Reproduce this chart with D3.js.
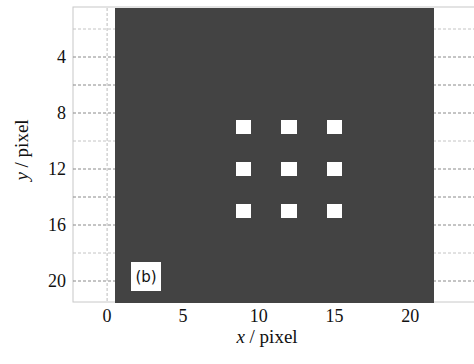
<!DOCTYPE html>
<html>
<head>
<meta charset="utf-8">
<script src="https://cdn.jsdelivr.net/npm/d3@7"></script>
<style>
  body { margin: 0; background: #fff; }
  svg { display: block; }
</style>
</head>
<body>
<svg id="chart" width="474" height="364"></svg>
<script>
// image size in pixels (columns / rows, 1-based)
const nCols = 21;
const nRows = 21;
// bright pixels of the pattern: [x, y]
const brightPixels = [
  [9, 9], [12, 9], [15, 9],
  [9, 12], [12, 12], [15, 12],
  [9, 15], [12, 15], [15, 15]
];
const xTicks = [0, 5, 10, 15, 20];
const yTicks = [4, 8, 12, 16, 20];
const yGrid = [2, 4, 6, 8, 10, 12, 14, 16, 18, 20];
const panelLabel = "(b)";

const svg = d3.select("#chart");

const x = d3.scaleLinear().domain([-2.25, 24.6]).range([73, 480]);
const y = d3.scaleLinear().domain([0.5, 21.5]).range([8, 302]);
const color = d3.scaleLinear().domain([0, 1]).range(["#434343", "#ffffff"]);

// build image matrix from the bright pixel list
let cells = [];
for (let r = 1; r <= nRows; r++) {
  for (let c = 1; c <= nCols; c++) {
    cells.push({ x: c, y: r, v: 0 });
  }
}
brightPixels.forEach(p => {
  let cell = cells.find(d => d.x == p[0] && d.y == p[1]);
  cell.v = 1;
});
// draw dark cells first so bright ones sit on top of the overlaps
cells.sort((a, b) => a.v - b.v);

// frame
svg.append("rect")
  .attr("x", x.range()[0]).attr("y", 7)
  .attr("width", x.range()[1] - x.range()[0])
  .attr("height", 302 - 7)
  .attr("fill", "#fff")
  .attr("stroke", "#c8c8c8")
  .attr("stroke-width", 1);

// grid
svg.append("g").selectAll("line.hgrid")
  .data(yGrid)
  .enter().append("line")
  .attr("class", "hgrid")
  .attr("x1", x.range()[0]).attr("x2", x.range()[1])
  .attr("y1", d => y(d)).attr("y2", d => y(d))
  .attr("stroke", d => (d % 4 == 0 || d == 6 || d == 14) ? "#8a8a8a" : "#c4c4c4")
  .attr("stroke-dasharray", "3,2");

svg.append("line")
  .attr("x1", x(0)).attr("x2", x(0))
  .attr("y1", 8).attr("y2", 302)
  .attr("stroke", "#bdbdbd")
  .attr("stroke-dasharray", "3,2");

// image cells
svg.append("g")
  .attr("shape-rendering", "crispEdges")
  .selectAll("rect.cell")
  .data(cells)
  .enter().append("rect")
  .attr("class", "cell")
  .attr("x", d => x(d.x - 0.5))
  .attr("y", d => y(d.y - 0.5))
  .attr("width", d => x(d.x + 0.5) - x(d.x - 0.5) + (d.v ? 0 : 1))
  .attr("height", d => y(d.y + 0.5) - y(d.y - 0.5) + (d.v ? 0 : 1))
  .attr("fill", d => color(d.v));

// tick labels
const serif = "'Liberation Serif', 'DejaVu Serif', serif";
svg.append("g").selectAll("text")
  .data(xTicks)
  .enter().append("text")
  .attr("x", d => x(d))
  .attr("y", 322)
  .attr("text-anchor", "middle")
  .style("font-family", serif)
  .style("font-size", "18px")
  .attr("fill", "#111")
  .text(d => d);

svg.append("g").selectAll("text")
  .data(yTicks)
  .enter().append("text")
  .attr("x", 66)
  .attr("y", d => y(d) + 6)
  .attr("text-anchor", "end")
  .style("font-family", serif)
  .style("font-size", "18px")
  .attr("fill", "#111")
  .text(d => d);

// axis titles
let xt = svg.append("text")
  .attr("x", 267).attr("y", 343)
  .attr("text-anchor", "middle")
  .style("font-family", serif)
  .style("font-size", "19px")
  .attr("fill", "#111");
xt.append("tspan").style("font-style", "italic").text("x");
xt.append("tspan").text(" / pixel");

let yt = svg.append("text")
  .attr("transform", "translate(28,150) rotate(-90)")
  .attr("text-anchor", "middle")
  .style("font-family", serif)
  .style("font-size", "19px")
  .attr("fill", "#111");
yt.append("tspan").style("font-style", "italic").text("y");
yt.append("tspan").text(" / pixel");

// panel label
svg.append("rect")
  .attr("x", 131).attr("y", 262)
  .attr("width", 30).attr("height", 29)
  .attr("fill", "#fff");
svg.append("text")
  .attr("x", 146).attr("y", 282)
  .attr("text-anchor", "middle")
  .style("font-family", "'DejaVu Sans', sans-serif")
  .style("font-size", "15px")
  .attr("fill", "#111")
  .text(panelLabel);
</script>
</body>
</html>
